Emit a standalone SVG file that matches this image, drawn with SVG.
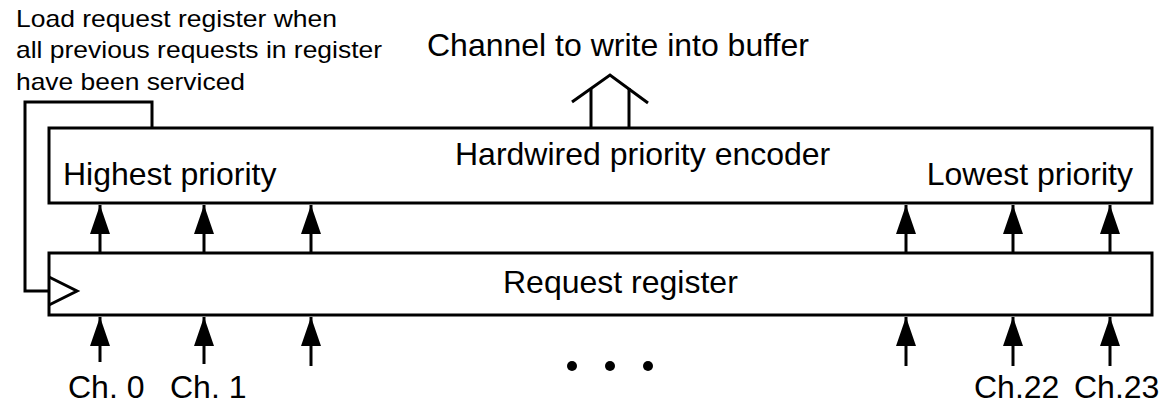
<svg xmlns="http://www.w3.org/2000/svg" width="1165" height="405" viewBox="0 0 1165 405">
  <style>
    .box { fill: #fff; stroke: #000; stroke-width: 3; }
    .wire { fill: none; stroke: #000; stroke-width: 3; }
    .arrow { fill: none; stroke: #000; stroke-width: 3; marker-end: url(#head); }
    .lbl { font-family: "Liberation Sans", Arial, sans-serif; font-size: 32px; fill: #000; }
    .note { font-family: "Liberation Sans", Arial, sans-serif; font-size: 24px; fill: #000; }
  </style>
  <defs>
    <marker id="head" markerUnits="userSpaceOnUse" markerWidth="29" markerHeight="20" refX="29" refY="10" orient="auto">
      <path d="M0,0 L29,10 L0,20 z" fill="#000"/>
    </marker>
  </defs>
  <rect width="1165" height="405" fill="#fff"/>

  <!-- load condition note -->
  <g id="note">
    <text class="note" x="16" y="27" textLength="321" lengthAdjust="spacingAndGlyphs">Load request register when</text>
    <text class="note" x="16" y="58" textLength="366" lengthAdjust="spacingAndGlyphs">all previous requests in register</text>
    <text class="note" x="16" y="90" textLength="229" lengthAdjust="spacingAndGlyphs">have been serviced</text>
  </g>

  <!-- output bus -->
  <g id="output">
    <text class="lbl" x="427" y="56">Channel to write into buffer</text>
  </g>

  <g id="connectors">
    <!-- load feedback into register clock -->
    <path class="wire" d="M152,128 V102 H25 V291 H49"/>
    <!-- output bus -->
    <path class="wire" d="M591,128 V88"/>
    <path class="wire" d="M629,128 V88"/>
    <path class="wire" d="M572,102 L610,75 L648,103"/>
    <!-- register to encoder -->
    <line class="arrow" x1="100" y1="253" x2="100" y2="205"/>
    <line class="arrow" x1="204" y1="253" x2="204" y2="205"/>
    <line class="arrow" x1="311" y1="253" x2="311" y2="205"/>
    <line class="arrow" x1="906" y1="253" x2="906" y2="205"/>
    <line class="arrow" x1="1013" y1="253" x2="1013" y2="205"/>
    <line class="arrow" x1="1110" y1="253" x2="1110" y2="205"/>
    <!-- channel inputs -->
    <line class="arrow" x1="100" y1="362" x2="100" y2="317"/>
    <line class="arrow" x1="204" y1="364" x2="204" y2="317"/>
    <line class="arrow" x1="311" y1="366" x2="311" y2="317"/>
    <line class="arrow" x1="906" y1="366" x2="906" y2="317"/>
    <line class="arrow" x1="1013" y1="366" x2="1013" y2="317"/>
    <line class="arrow" x1="1110" y1="366" x2="1110" y2="317"/>
  </g>

  <g id="encoder">
    <rect class="box" x="49" y="128" width="1103" height="75"/>
    <text class="lbl" x="455" y="165">Hardwired priority encoder</text>
    <text class="lbl" x="63" y="185">Highest priority</text>
    <text class="lbl" x="1133" y="185" text-anchor="end">Lowest priority</text>
  </g>

  <g id="register">
    <rect class="box" x="49" y="253" width="1103" height="62"/>
    <path class="wire" d="M49,277 L77,291 L49,305"/>
    <text class="lbl" x="503" y="293">Request register</text>
  </g>

  <g id="channels">
    <text class="lbl" x="68" y="398">Ch. 0</text>
    <text class="lbl" x="170" y="398">Ch. 1</text>
    <circle cx="572" cy="366" r="5"/>
    <circle cx="610" cy="366" r="5"/>
    <circle cx="648" cy="366" r="5"/>
    <text class="lbl" x="974" y="398">Ch.22</text>
    <text class="lbl" x="1074" y="398">Ch.23</text>
  </g>
</svg>
